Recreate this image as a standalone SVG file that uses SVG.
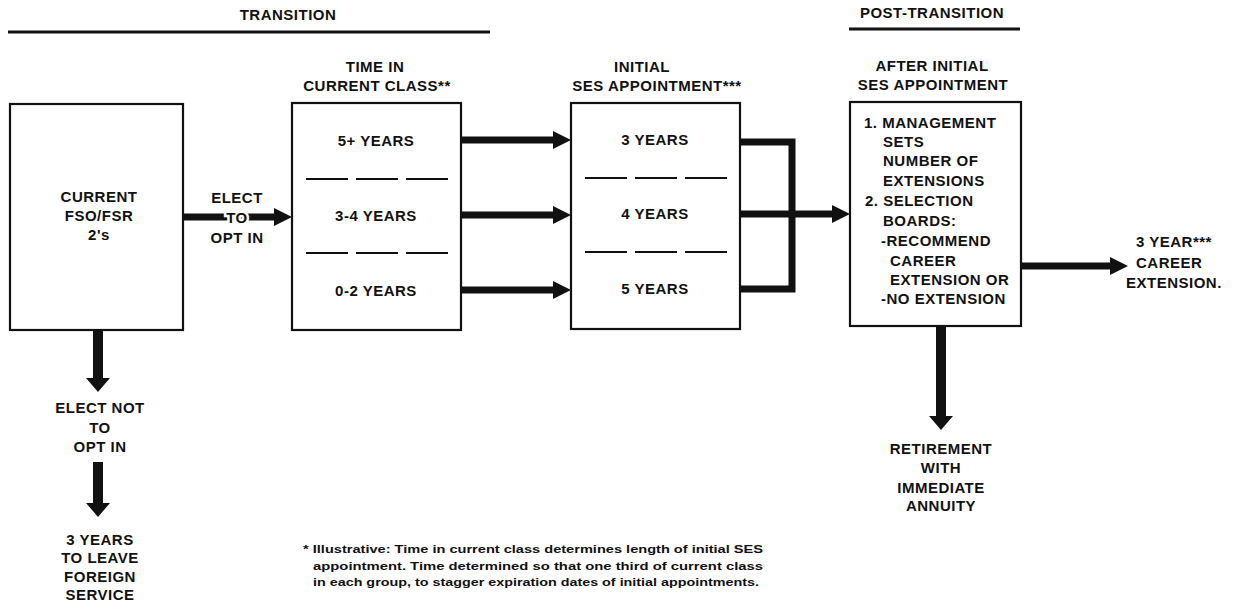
<svg xmlns="http://www.w3.org/2000/svg" width="1241" height="602" viewBox="0 0 1241 602">
<style>
text{font-family:"Liberation Sans",Arial,sans-serif;font-weight:bold;font-size:15px;letter-spacing:0.5px;fill:#111}
.c{text-anchor:middle}
.box{fill:#fff;stroke:#111;stroke-width:2.2}
.div{stroke:#111;stroke-width:2;stroke-dasharray:42 8;fill:none}
.rule{stroke:#111;stroke-width:3}
.h{stroke:#111;stroke-width:7;fill:none}
.v{stroke:#111;stroke-width:10;fill:none}
.fn{font-size:11.5px;font-weight:bold;letter-spacing:0}
.halo{stroke:#fff;stroke-width:5px;paint-order:stroke}
</style>
<defs>
<marker id="ah" markerWidth="18" markerHeight="18" refX="8" refY="9" orient="auto" markerUnits="userSpaceOnUse"><path d="M0,0 L18,9 L0,18 z" fill="#111"/></marker>
<marker id="av" markerWidth="14" markerHeight="24" refX="4" refY="12" orient="auto" markerUnits="userSpaceOnUse"><path d="M0,0 L14,12 L0,24 z" fill="#111"/></marker>
</defs>

<g id="headers">
<text class="c" x="288" y="20">TRANSITION</text>
<line class="rule" x1="8" y1="32" x2="490" y2="32"/>
<text class="c" x="932" y="18">POST-TRANSITION</text>
<line class="rule" x1="849" y1="29" x2="1020" y2="29"/>
<text class="c" x="375" y="72">TIME IN</text>
<text class="c" x="377" y="91">CURRENT CLASS**</text>
<text class="c" x="642" y="72">INITIAL</text>
<text class="c" x="657" y="91">SES APPOINTMENT***</text>
<text class="c" x="932" y="71">AFTER INITIAL</text>
<text class="c" x="933" y="90">SES APPOINTMENT</text>
</g>

<g id="connectors">
<line class="h" x1="183" y1="217" x2="282" y2="217" marker-end="url(#ah)"/>
<line class="h" x1="461" y1="140" x2="561" y2="140" marker-end="url(#ah)"/>
<line class="h" x1="461" y1="215" x2="561" y2="215" marker-end="url(#ah)"/>
<line class="h" x1="461" y1="290" x2="561" y2="290" marker-end="url(#ah)"/>
<path class="h" d="M740,142 H792 V289 H740"/>
<line class="h" x1="740" y1="214" x2="840" y2="214" marker-end="url(#ah)"/>
<line class="h" x1="1020" y1="266" x2="1118" y2="266" marker-end="url(#ah)"/>
<line class="v" x1="98" y1="330" x2="98" y2="382" marker-end="url(#av)"/>
<line class="v" x1="98" y1="462" x2="98" y2="507" marker-end="url(#av)"/>
<line class="v" x1="941" y1="326" x2="941" y2="420" marker-end="url(#av)"/>
</g>

<g id="node-current">
<rect class="box" x="10" y="104" width="173" height="226"/>
<text class="c" x="99" y="202">CURRENT</text>
<text class="c" x="99" y="221">FSO/FSR</text>
<text class="c" x="99" y="240">2's</text>
</g>

<g id="label-elect">
<text class="c" x="237" y="203">ELECT</text>
<text class="c halo" x="237" y="223">TO</text>
<text class="c" x="237" y="243">OPT IN</text>
</g>

<g id="node-time">
<rect class="box" x="292" y="103" width="169" height="227"/>
<line class="div" x1="306" y1="179" x2="455" y2="179"/>
<line class="div" x1="306" y1="253" x2="455" y2="253"/>
<text class="c" x="376" y="146">5+ YEARS</text>
<text class="c" x="376" y="221">3-4 YEARS</text>
<text class="c" x="376" y="296">0-2 YEARS</text>
</g>

<g id="node-initial">
<rect class="box" x="571" y="103" width="169" height="226"/>
<line class="div" x1="585" y1="178" x2="727" y2="178"/>
<line class="div" x1="585" y1="252" x2="727" y2="252"/>
<text class="c" x="655" y="145">3 YEARS</text>
<text class="c" x="655" y="219">4 YEARS</text>
<text class="c" x="655" y="294">5 YEARS</text>
</g>

<g id="node-after">
<rect class="box" x="850" y="102" width="171" height="224"/>
<text x="864" y="128">1. MANAGEMENT</text>
<text x="883" y="147">SETS</text>
<text x="883" y="166">NUMBER OF</text>
<text x="883" y="186">EXTENSIONS</text>
<text x="865" y="206">2. SELECTION</text>
<text x="883" y="226">BOARDS:</text>
<text x="881" y="246">-RECOMMEND</text>
<text x="890" y="266">CAREER</text>
<text x="890" y="285">EXTENSION OR</text>
<text x="881" y="304">-NO EXTENSION</text>
</g>

<g id="node-career">
<text x="1136" y="247">3 YEAR***</text>
<text x="1136" y="268">CAREER</text>
<text x="1126" y="288">EXTENSION.</text>
</g>

<g id="node-elect-not">
<text class="c" x="100" y="413">ELECT NOT</text>
<text class="c" x="100" y="433">TO</text>
<text class="c" x="100" y="452">OPT IN</text>
</g>

<g id="node-leave">
<text class="c" x="100" y="545">3 YEARS</text>
<text class="c" x="100" y="563">TO LEAVE</text>
<text class="c" x="100" y="582">FOREIGN</text>
<text class="c" x="100" y="600">SERVICE</text>
</g>

<g id="node-retire">
<text class="c" x="941" y="454">RETIREMENT</text>
<text class="c" x="941" y="473">WITH</text>
<text class="c" x="941" y="493">IMMEDIATE</text>
<text class="c" x="941" y="511">ANNUITY</text>
</g>

<g id="footnote">
<text class="fn" x="303" y="553" textLength="460" lengthAdjust="spacingAndGlyphs">* Illustrative: Time in current class determines length of initial SES</text>
<text class="fn" x="313" y="570" textLength="450" lengthAdjust="spacingAndGlyphs">appointment. Time determined so that one third of current class</text>
<text class="fn" x="313" y="586" textLength="446" lengthAdjust="spacingAndGlyphs">in each group, to stagger expiration dates of initial appointments.</text>
</g>
</svg>
